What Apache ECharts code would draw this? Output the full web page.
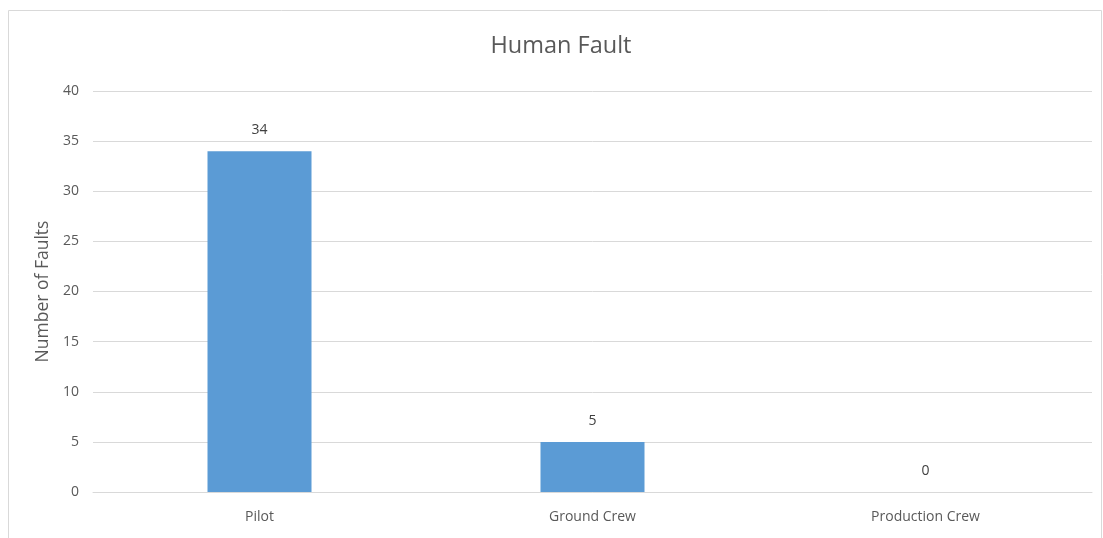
<!DOCTYPE html>
<html>
<head>
<meta charset="utf-8">
<script src="https://cdn.jsdelivr.net/npm/echarts@6/dist/echarts.min.js"></script>
<style>
  html, body { margin: 0; padding: 0; background: #fff; }
  #chart { width: 1103px; height: 538px; }
</style>
</head>
<body>
<div id="chart"></div>
<script>
const categories = ["Pilot", "Ground Crew", "Production Crew"];
const faults = [34, 5, 0];

const chart = echarts.init(document.getElementById("chart"));

chart.setOption({
  animation: false,
  textStyle: { fontFamily: "Open Sans" },
  graphic: [
    {
      type: "rect",
      shape: { x: 8.5, y: 10.5, width: 1093, height: 540 },
      style: { fill: "none", stroke: "#d9d9d9", lineWidth: 1 },
    },
  ],
  title: {
    text: "Human Fault",
    left: 561,
    textAlign: "center",
    top: 29,
    textStyle: { fontSize: 23.5, fontWeight: "normal", color: "#595959", fontFamily: "Open Sans" },
  },
  grid: { left: 93, right: 11, top: 91, bottom: 46 },
  xAxis: {
    type: "category",
    data: categories,
    axisLine: { lineStyle: { color: "#d9d9d9" } },
    axisTick: { show: false },
    axisLabel: { color: "#595959", fontSize: 14, margin: 18 },
  },
  yAxis: {
    type: "value",
    min: 0,
    max: 40,
    interval: 5,
    name: "Number of Faults",
    nameLocation: "middle",
    nameRotate: 90,
    nameGap: 40,
    nameTextStyle: { color: "#595959", fontSize: 17.5 },
    axisLine: { show: false },
    axisTick: { show: false },
    axisLabel: { color: "#595959", fontSize: 14, margin: 14 },
    splitLine: { lineStyle: { color: "#d9d9d9" } },
  },
  series: [
    {
      type: "bar",
      data: faults,
      barWidth: 104,
      itemStyle: { color: "#5b9bd5" },
      label: {
        show: true,
        position: "top",
        distance: 14,
        color: "#404040",
        fontSize: 14,
      },
    },
  ],
});
// nudge title a little left to sit where the reference has it
chart.setOption({ title: { left: 556 } });
</script>
</body>
</html>
